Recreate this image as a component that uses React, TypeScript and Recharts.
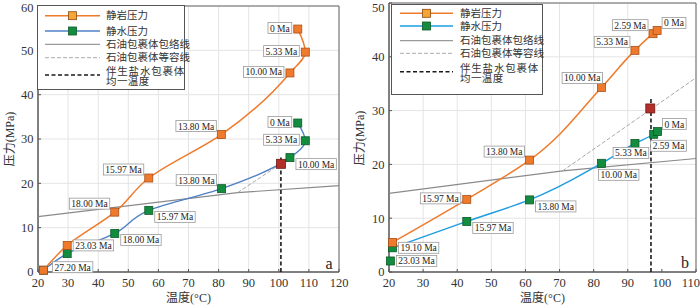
import React from 'react';
import { ScatterChart, Scatter, XAxis, YAxis, CartesianGrid, ReferenceArea } from 'recharts';

const FONT = 'Liberation Serif, Times New Roman, Noto Sans CJK SC, serif';

// panel a
const rockAgeA = ['27.20 Ma', '23.03 Ma', '18.00 Ma', '15.97 Ma', '13.80 Ma', '10.00 Ma', '5.33 Ma', '0 Ma'];
const rockTempA = [21.8, 29.7, 45.5, 56.8, 80.9, 103.7, 108.8, 106.3];
const rockPresA = [0.4, 6.0, 13.5, 21.2, 31.0, 44.9, 49.6, 54.8];
const waterAgeA = ['27.20 Ma', '23.03 Ma', '18.00 Ma', '15.97 Ma', '13.80 Ma', '10.00 Ma', '5.33 Ma', '0 Ma'];
const waterTempA = [21.8, 29.7, 45.5, 56.8, 81.0, 103.7, 108.8, 106.3];
const waterPresA = [0.4, 4.15, 8.7, 13.9, 18.8, 25.8, 29.6, 33.6];
const envTempA = [20, 86.3, 120];
const envPresA = [12.5, 17.9, 19.5];
const isoTempA = [86.3, 100.7];
const isoPresA = [17.9, 24.4];
const homTempA = [100.7, 100.7];
const homPresA = [0, 26.3];
const trapTempA = [100.7];
const trapPresA = [24.4];

// panel b
const rockAgeB = ['19.10 Ma', '15.97 Ma', '13.80 Ma', '10.00 Ma', '5.33 Ma', '2.59 Ma', '0 Ma'];
const rockTempB = [21.0, 42.8, 61.2, 82.3, 92.1, 97.4, 98.6];
const rockPresB = [5.5, 13.5, 20.8, 34.3, 41.2, 44.3, 44.9];
const waterAgeB = ['23.03 Ma', '19.10 Ma', '15.97 Ma', '13.80 Ma', '10.00 Ma', '5.33 Ma', '2.59 Ma', '0 Ma'];
const waterTempB = [20.4, 21.0, 42.8, 61.2, 82.3, 92.1, 97.6, 98.7];
const waterPresB = [2.05, 4.5, 9.4, 13.4, 20.2, 23.9, 25.6, 26.1];
const envTempB = [20, 70.9, 110];
const envPresB = [14.6, 18.8, 21.1];
const isoTempB = [70.9, 110];
const isoPresB = [18.8, 36.1];
const homTempB = [96.8, 96.8];
const homPresB = [0, 32.6];
const trapTempB = [96.6];
const trapPresB = [30.4];

// where each age tag sits relative to its point
const rockTagA = ['ru', 'r', 'al', 'al', 'al', 'l', 'l', 'l'];
const waterTagA = ['', '', 'br', 'br', 'al', 'br', 'l', 'l'];
const rockTagB = ['', 'l', 'al', 'a', 'al', 'al', 'ar'];
const waterTagB = ['r', 'r', 'br', 'br', 'b', 'bc', 'b', 'ar'];

type Pt = { x: number; y: number; age?: string; pos?: string };
const pts = (xs: number[], ys: number[], ages?: string[], pos?: string[]): Pt[] =>
  xs.map((x, i) => ({ x, y: ys[i], age: ages?.[i], pos: pos?.[i] }));

const ORANGE = '#f07a2c';
const GREEN = '#138c3f';

const square = (fill: string, stroke: string, s: number) => (p: any) =>
  <rect x={p.cx - s / 2} y={p.cy - s / 2} width={s} height={s} fill={fill} stroke={stroke} strokeWidth={0.8} />;
const nothing = () => <g />;

const charW: Record<string, number> = { '.': 0.25, ' ': 0.25, M: 0.889, a: 0.444 };
const textW = (s: string, fs: number) => s.split('').reduce((w, c) => w + (charW[c] ?? 0.5) * fs, 0);

const AgeTag = (p: any) => {
  const { cx, cy, payload } = p;
  if (!payload || !payload.pos) return <g />;
  const fs = 9.5;
  const w = textW(payload.age, fs) + 4;
  const h = 11;
  let x = cx + 6;
  let y = cy - h / 2;
  switch (payload.pos) {
    case 'ru': x = cx + 9; y = cy - 3 - h / 2; break;
    case 'l': x = cx - 6 - w; y = cy - 1 - h / 2; break;
    case 'al': x = cx - 5 - w; y = cy - 3 - h; break;
    case 'a': x = cx + 1 - w; y = cy - 4 - h; break;
    case 'ar': x = cx + 5; y = cy - 2 - h; break;
    case 'br': x = cx + 6; y = cy + 1; break;
    case 'b': x = cx - 3; y = cy + 6; break;
    case 'bc': x = cx - w / 2 - 4; y = cy + 4; break;
  }
  return (
    <g>
      <rect x={x} y={y} width={w} height={h} fill="#fff" stroke="#9a9a9a" strokeWidth={0.8} />
      <text x={x + w / 2} y={y + h / 2 + 0.5} textAnchor="middle" dominantBaseline="central"
        fontSize={fs} fontFamily={FONT} fill="#222">{payload.age}</text>
    </g>
  );
};

type PanelProps = {
  xMax: number; yMax: number; top: number; right: number; yWidth: number; blue: string;
  rock: Pt[]; water: Pt[]; waterLoose: Pt[]; env: Pt[]; iso: Pt[]; hom: Pt[]; trap: Pt[];
};

function Panel(props: PanelProps) {
  const { xMax, yMax, blue } = props;
  const xTicks: number[] = [];
  for (let v = 20; v <= xMax; v += 10) xTicks.push(v);
  const yTicks: number[] = [];
  for (let v = 0; v <= yMax; v += 10) yTicks.push(v);
  const tick = { fill: '#333', fontSize: 12.5, fontFamily: FONT };
  return (
    <ScatterChart width={350} height={305} margin={{ top: props.top, right: props.right, left: 0, bottom: 3 }}>
      <CartesianGrid stroke="#e4e4e4" />
      <XAxis type="number" dataKey="x" domain={[20, xMax]} ticks={xTicks} height={30}
        tickSize={-3} tickMargin={9} stroke="#555" tick={tick} />
      <YAxis type="number" dataKey="y" domain={[0, yMax]} ticks={yTicks} width={props.yWidth}
        tickSize={-3} tickMargin={7.5} stroke="#555" tick={tick} />
      <ReferenceArea x1={20} x2={xMax} y1={0} y2={yMax} fill="none" stroke="#666" strokeWidth={1} />
      <Scatter data={props.env} shape={nothing} isAnimationActive={false}
        line={{ stroke: '#8a8a8a', strokeWidth: 1.2 }} />
      <Scatter data={props.iso} shape={nothing} isAnimationActive={false}
        line={{ stroke: '#a8a8a8', strokeWidth: 1, strokeDasharray: '4 2' }} />
      <Scatter data={props.hom} shape={nothing} isAnimationActive={false}
        line={{ stroke: '#1a1a1a', strokeWidth: 1.6, strokeDasharray: '4 2.5' }} />
      <Scatter data={props.water} shape={square(GREEN, '#0b5a27', 8)} isAnimationActive={false}
        line={{ stroke: blue, strokeWidth: 1.4 }} lineJointType="monotoneY" />
      <Scatter data={props.waterLoose} shape={square(GREEN, '#0b5a27', 8)} isAnimationActive={false} />
      <Scatter data={props.rock} shape={square(ORANGE, '#a9501a', 8)} isAnimationActive={false}
        line={{ stroke: ORANGE, strokeWidth: 1.5 }} lineJointType="monotoneY" />
      <Scatter data={props.trap} shape={square('#b3302a', '#6e1a15', 9)} isAnimationActive={false} />
      <Scatter data={props.water.concat(props.waterLoose)} shape={AgeTag} isAnimationActive={false} />
      <Scatter data={props.rock} shape={AgeTag} isAnimationActive={false} />
    </ScatterChart>
  );
}

function LegendBox({ x, y, w, h, rows, sx1, sx2, tx, blue }: any) {
  const mid = (sx1 + sx2) / 2;
  const t = { fontSize: 10.5, fontFamily: FONT, fill: '#333', dominantBaseline: 'central' as const };
  return (
    <g>
      <rect x={x} y={y} width={w} height={h} fill="#fff" stroke="#555" strokeWidth={1} />
      <line x1={sx1} x2={sx2} y1={rows[0]} y2={rows[0]} stroke={ORANGE} strokeWidth={1.5} />
      <rect x={mid - 4} y={rows[0] - 4} width={8} height={8} fill="#f5a535" stroke="#8a4a12" strokeWidth={0.8} />
      <text x={tx} y={rows[0]} {...t}>静岩压力</text>
      <line x1={sx1} x2={sx2} y1={rows[1]} y2={rows[1]} stroke={blue} strokeWidth={1.4} />
      <rect x={mid - 4} y={rows[1] - 4} width={8} height={8} fill={GREEN} stroke="#0b5a27" strokeWidth={0.8} />
      <text x={tx} y={rows[1]} {...t}>静水压力</text>
      <line x1={sx1} x2={sx2} y1={rows[2]} y2={rows[2]} stroke="#9a9a9a" strokeWidth={1.2} />
      <text x={tx} y={rows[2]} {...t}>石油包裹体包络线</text>
      <line x1={sx1} x2={sx2} y1={rows[3]} y2={rows[3]} stroke="#aaa" strokeWidth={1} strokeDasharray="4 2" />
      <text x={tx} y={rows[3]} {...t}>石油包裹体等容线</text>
      <line x1={sx1} x2={sx2} y1={rows[4]} y2={rows[4]} stroke="#1a1a1a" strokeWidth={1.6} strokeDasharray="4 2.5" />
      <text x={tx} y={rows[5]} {...t} letterSpacing={0.8}>伴生盐水包裹体</text>
      <text x={tx} y={rows[6]} {...t} letterSpacing={0.4}>均一温度</text>
    </g>
  );
}

export default function App() {
  const title = { fontSize: 12, fontFamily: FONT, fill: '#333' };
  return (
    <div style={{ position: 'absolute', left: 0, top: 0, width: 700, height: 305, background: '#fff' }}>
      <div style={{ position: 'absolute', left: 0, top: 0 }}>
        <Panel xMax={120} yMax={60} top={6} right={11} yWidth={38} blue="#4f80c6"
          rock={pts(rockTempA, rockPresA, rockAgeA, rockTagA)}
          water={pts(waterTempA, waterPresA, waterAgeA, waterTagA)} waterLoose={[]}
          env={pts(envTempA, envPresA)} iso={pts(isoTempA, isoPresA)}
          hom={pts(homTempA, homPresA)} trap={pts(trapTempA, trapPresA)} />
      </div>
      <div style={{ position: 'absolute', left: 350, top: 0 }}>
        <Panel xMax={110} yMax={50} top={3} right={4} yWidth={39} blue="#1d9ce0"
          rock={pts(rockTempB, rockPresB, rockAgeB, rockTagB)}
          water={pts(waterTempB, waterPresB, waterAgeB, waterTagB).slice(1)}
          waterLoose={pts(waterTempB, waterPresB, waterAgeB, waterTagB).slice(0, 1)}
          env={pts(envTempB, envPresB)} iso={pts(isoTempB, isoPresB)}
          hom={pts(homTempB, homPresB)} trap={pts(trapTempB, trapPresB)} />
      </div>
      <svg width={700} height={305} style={{ position: 'absolute', left: 0, top: 0, pointerEvents: 'none' }}>
        <LegendBox x={37.5} y={5.5} w={147} h={84} rows={[15.7, 31, 44.3, 57.7, 75, 71.5, 81.5]}
          sx1={45} sx2={100} tx={106} blue="#4f80c6" />
        <LegendBox x={391.5} y={4.5} w={151} h={90} rows={[13.3, 26, 40.7, 53.3, 71.7, 68.3, 78.8]}
          sx1={400} sx2={453} tx={460} blue="#1d9ce0" />
        <text x={188.5} y={298} textAnchor="middle" dominantBaseline="central" {...title}>温度(°C)</text>
        <text x={542.5} y={298} textAnchor="middle" dominantBaseline="central" {...title}>温度(°C)</text>
        <text x={10} y={139} textAnchor="middle" dominantBaseline="central" transform="rotate(-90 10 139)" {...title}>压力(MPa)</text>
        <text x={360} y={138} textAnchor="middle" dominantBaseline="central" transform="rotate(-90 360 138)" {...title}>压力(MPa)</text>
        <text x={329} y={269} textAnchor="middle" fontSize={16} fontFamily={FONT} fill="#222">a</text>
        <text x={685} y={268} textAnchor="middle" fontSize={16} fontFamily={FONT} fill="#222">b</text>
      </svg>
    </div>
  );
}
